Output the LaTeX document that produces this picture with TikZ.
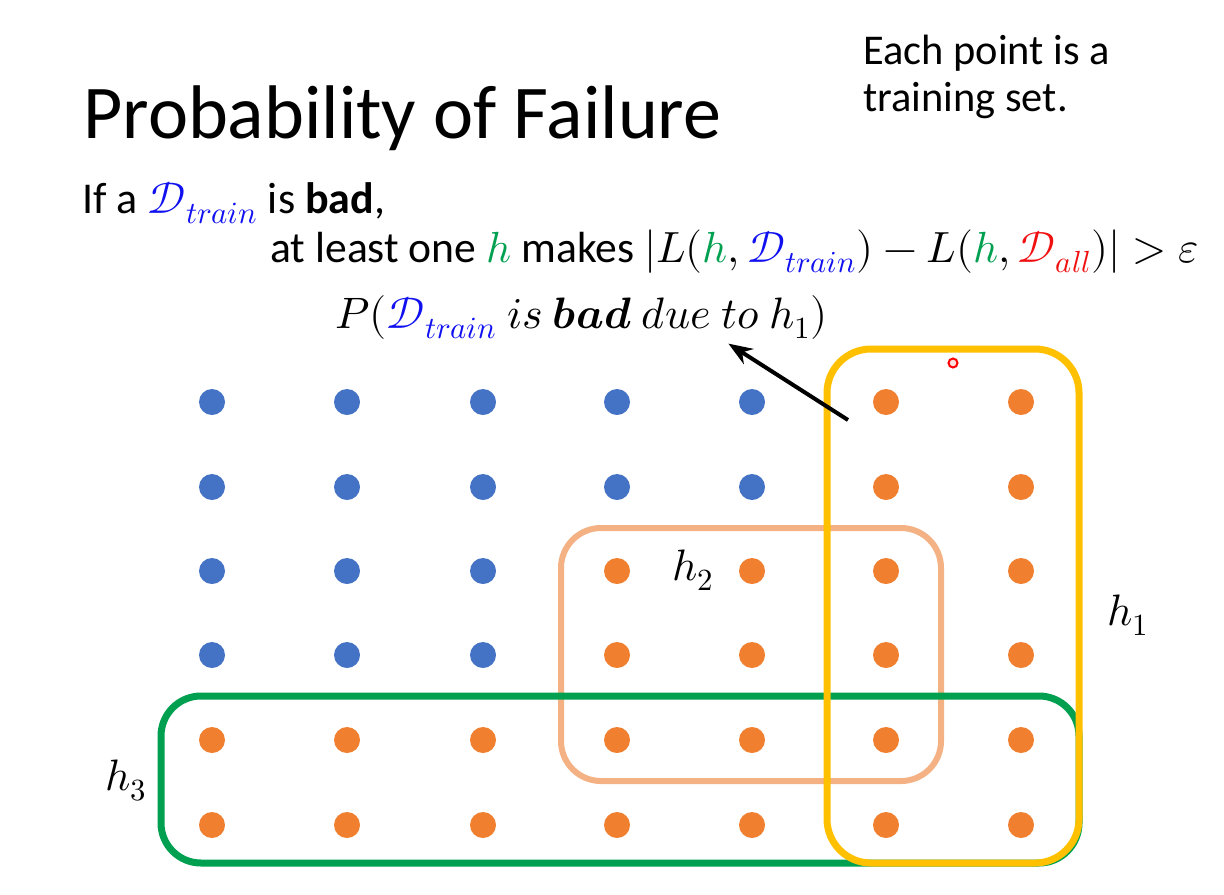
\documentclass[tikz,border=0pt]{standalone}
\usepackage{fontspec}
\usepackage{unicode-math}
\setmainfont{Carlito}
\setmathfont{Latin Modern Math}
\usetikzlibrary{positioning}
\usetikzlibrary{arrows.meta}
\definecolor{dotblue}{HTML}{4472C4}
\definecolor{dotorange}{HTML}{F08030}
\definecolor{boxyellow}{HTML}{FFC000}
\definecolor{boxpeach}{HTML}{F4B183}
\definecolor{boxgreen}{HTML}{00A050}
\definecolor{txtblue}{HTML}{1010F0}
\definecolor{txtgreen}{HTML}{00A050}
\definecolor{txtred}{HTML}{F01010}

\begin{document}
\begin{tikzpicture}[
  x=0.5pt, y=-0.5pt,
  >=Stealth,
  dot/.style={
      circle,
      inner sep=0pt,
      minimum size=13pt
  },
  bluedot/.style={dot, fill=dotblue},
  orangedot/.style={dot, fill=dotorange},
  txt/.style={
      anchor=base west,
      inner sep=0pt,
      font=\fontsize{22}{26}\selectfont
  },
  hyp/.style={
      rounded corners=20pt,
      line width=3.5pt
  },
  hlabel/.style={
      anchor=base west,
      inner sep=0pt,
      font=\fontsize{22}{26}\selectfont
  }
]
\useasboundingbox (0,0) rectangle (1224,894);

\node[anchor=base west, inner sep=0pt, font=\fontsize{38}{46}\selectfont] (title) at (83,138) {Probability of Failure};

\node[txt, font=\fontsize{21.2}{25}\selectfont] (note1) at (863,64) {Each point is a};
\node[txt, font=\fontsize{21.2}{25}\selectfont] (note2) at (863,111) {training set.};

\node[txt] (ifbad) at (82,213)
{If a \textcolor{txtblue}{$\mathcal{D}_{train}$} is \textbf{bad},};

\node[txt, font=\fontsize{21.8}{26}\selectfont] (atleast) at (270,262)
{at least one \textcolor{txtgreen}{$h$} makes
$|L(\textcolor{txtgreen}{h},\textcolor{txtblue}{\mathcal{D}_{train}})-L(\textcolor{txtgreen}{h},\textcolor{txtred}{\mathcal{D}_{all}})|>\varepsilon$};

\node[txt] (ph1) at (335,328)
{$P(\textcolor{txtblue}{\mathcal{D}_{train}}\ is\ \symbfit{bad}\ due\ to\ h_1)$};

% the training sets
\foreach \c/\x in {1/212,2/347,3/483,4/617,5/752,6/886,7/1021}{
  \foreach \r/\y in {1/402,2/487,3/571,4/655,5/740,6/825}{
    \pgfmathtruncatemacro{\isblue}{(\r<3 && \c<6) || (\r<5 && \c<4) ? 1 : 0}
    \ifnum\isblue=1
      \node[bluedot] (p\r\c) at (\x,\y) {};
    \else
      \node[orangedot] (p\r\c) at (\x,\y) {};
    \fi
  }
}

% hypotheses
\draw[hyp, draw=boxpeach, line width=3pt] (561,528) rectangle (941,781);
\draw[hyp, draw=boxgreen] (161,696) rectangle (1079,863);
\draw[hyp, draw=boxyellow, rounded corners=22pt] (827,349) rectangle (1079,863);

\node[hlabel] (h2) at (672,580) {$h_2$};
\node[hlabel] (h1) at (1107,625) {$h_1$};
\node[hlabel] (h3) at (105,790) {$h_3$};

\node[circle, draw=red, fill=red!12, line width=1pt, minimum size=4.5pt, inner sep=0pt] (cursor) at (953,363) {};

\coordinate (tail) at (848,420);
\draw[->, line width=2pt] (tail) -- ([xshift=-50pt,yshift=-2pt]ph1.south east);

\end{tikzpicture}
\end{document}
